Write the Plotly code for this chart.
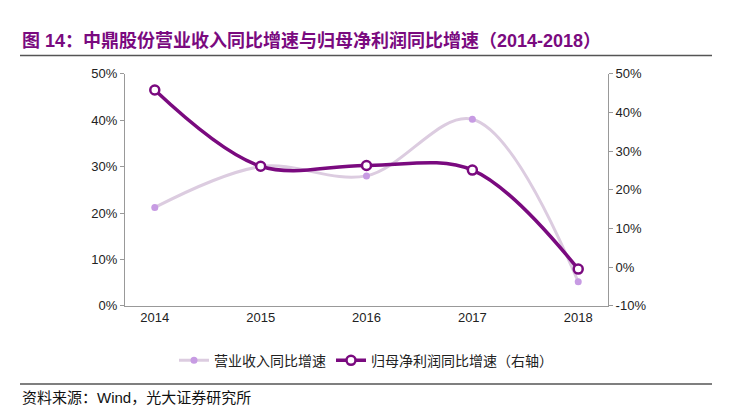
import plotly.graph_objects as go

years = ["2014", "2015", "2016", "2017", "2018"]
revenue_growth = [21.2, 30.0, 28.0, 40.2, 5.2]
profit_growth = [45.8, 26.1, 26.3, 25.1, -0.5]
left_ticks = [0, 10, 20, 30, 40, 50]
right_ticks = [-10, 0, 10, 20, 30, 40, 50]

W, H = 723, 407
OX, OY = 8, 12
def px(x): return (x - OX) / W
def py(y): return 1 - (y - OY) / H

F = "Liberation Sans, Noto Sans CJK SC"
fig = go.Figure()
fig.add_trace(go.Scatter(x=years, y=revenue_growth, name="营业收入同比增速",
    mode="lines+markers", line=dict(color="#DCCCE0", width=3, shape="spline"),
    marker=dict(color="#C79BE3", size=7)))
fig.add_trace(go.Scatter(x=years, y=profit_growth, name="归母净利润同比增速（右轴）", yaxis="y2",
    mode="lines+markers", line=dict(color="#7A0A7F", width=3.5, shape="spline"),
    marker=dict(color="white", size=9, line=dict(color="#7A0A7F", width=2.5))))

fig.update_layout(
    width=W, height=H, margin=dict(l=0, r=0, t=0, b=0),
    plot_bgcolor="white", paper_bgcolor="white",
    font=dict(family=F, size=13, color="#222"),
    xaxis=dict(domain=[px(125), px(608)], showline=True, linecolor="#999", ticks="", showgrid=False),
    yaxis=dict(range=[0, 50], tickvals=left_ticks, ticktext=[f"{v}%" for v in left_ticks],
               showline=True, linecolor="#999", ticks="outside", ticklen=4, tickcolor="#999",
               showgrid=False, zeroline=False, domain=[py(314), py(73)]),
    yaxis2=dict(range=[-10, 50], tickvals=right_ticks, ticktext=[f"{v}%" for v in right_ticks],
                overlaying="y", side="right", showline=True, linecolor="#999", ticks="outside",
                ticklen=4, tickcolor="#999", showgrid=False, zeroline=False),
    legend=dict(orientation="h", x=px(366), xanchor="center", y=py(371), yanchor="middle",
                font=dict(size=14, family="Noto Sans CJK SC")),
    showlegend=True,
)
fig.add_annotation(text="<b>图 14：中鼎股份营业收入同比增速与归母净利润同比增速（2014-2018）</b>",
    xref="paper", yref="paper", x=px(20), y=py(38), xanchor="left", yanchor="middle",
    showarrow=False, font=dict(size=18, color="#7A0A7F", family=F))
fig.add_annotation(text="资料来源：Wind，光大证券研究所", xref="paper", yref="paper",
    x=px(20), y=py(409), xanchor="left", yanchor="middle", showarrow=False,
    font=dict(size=15, color="#111", family=F))
for yy in [54, 395]:
    fig.add_shape(type="line", xref="paper", yref="paper", x0=px(20), x1=px(712),
                  y0=py(yy), y1=py(yy), line=dict(color="#555", width=1.5))
fig.write_html("out.html")
